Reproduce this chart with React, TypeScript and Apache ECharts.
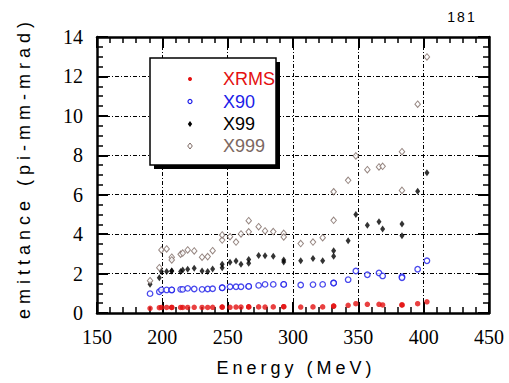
import React, { useEffect, useRef } from "react";
import * as echarts from "echarts";

// Beam energy (MeV) of each sample (some energies carry two samples)
const energy = [
  190.6, 197.7, 199.3, 203.3, 207.2, 207.2, 214.0, 215.6, 219.4, 224.4,
  230.4, 234.7, 238.5, 245.8, 245.8, 251.8, 256.4, 260.2, 266.1, 266.1,
  273.7, 278.6, 284.9, 292.9, 292.9, 305.9, 315.3, 322.7, 331.1, 331.1,
  342.2, 348.1, 356.9, 365.8, 368.6, 383.4, 383.4, 395.4, 402.5,
];
const xrms = [
  0.24, 0.27, 0.28, 0.28, 0.28, 0.28, 0.28, 0.28, 0.28, 0.29,
  0.28, 0.28, 0.29, 0.3, 0.3, 0.29, 0.3, 0.3, 0.31, 0.31,
  0.31, 0.3, 0.31, 0.32, 0.32, 0.3, 0.31, 0.31, 0.35, 0.35,
  0.39, 0.47, 0.44, 0.44, 0.41, 0.41, 0.41, 0.47, 0.57,
];
const x90 = [
  0.98, 1.08, 1.17, 1.17, 1.17, 1.17, 1.2, 1.2, 1.25, 1.22,
  1.2, 1.22, 1.23, 1.28, 1.28, 1.33, 1.33, 1.33, 1.35, 1.35,
  1.4, 1.45, 1.45, 1.45, 1.45, 1.42, 1.44, 1.45, 1.52, 1.52,
  1.69, 2.13, 1.94, 2.03, 1.88, 1.84, 1.79, 2.22, 2.65,
];
const x99 = [
  1.46, 1.79, 2.1, 2.1, 2.13, 2.13, 2.1, 2.18, 2.22, 2.27,
  2.13, 2.1, 2.23, 2.47, 2.3, 2.57, 2.64, 2.47, 2.72, 2.52,
  2.92, 2.91, 2.88, 2.69, 2.59, 2.65, 2.76, 2.65, 3.16, 2.88,
  3.67, 5.0, 4.45, 4.63, 4.26, 4.52, 3.92, 6.17, 7.12,
];
const x999 = [
  1.64, 2.3, 3.2, 3.25, 2.83, 2.69, 2.98, 3.04, 3.2, 3.15,
  2.83, 2.86, 3.16, 3.7, 3.96, 3.87, 3.6, 4.01, 4.68, 4.12,
  4.38, 4.16, 4.13, 4.04, 3.86, 3.52, 3.6, 3.82, 6.15, 4.7,
  6.73, 7.97, 7.27, 7.41, 7.44, 8.18, 6.22, 10.59, 12.99,
];

const seriesNames = ["XRMS", "X90", "X99", "X999"];
const xTicks = { min: 150, max: 450, interval: 50 };
const yTicks = { min: 0, max: 14, interval: 2 };

const RED = "#e41010";
const BLUE = "#1c1ce8";
const BLACK = "#000000";
const BROWN = "#7c6862";

const pair = (ys: number[]) => energy.map((e, i) => [e, ys[i]]);

export default function App() {
  const ref = useRef<HTMLDivElement>(null);
  useEffect(() => {
    if (!ref.current) return;
    const chart = echarts.init(ref.current, null, { renderer: "svg" });
    const serif = "'Liberation Serif', 'Times New Roman', serif";
    const sans = "'Liberation Sans', Arial, sans-serif";
    const splitStyle = { type: [4, 2, 1, 2], color: "#000", width: 1 };
    const baseX = {
      type: "value",
      min: xTicks.min,
      max: xTicks.max,
      interval: xTicks.interval,
      axisLine: { show: true, onZero: false, lineStyle: { color: "#000", width: 2.5 } },
      axisTick: { show: true, inside: true, length: 11, lineStyle: { color: "#000", width: 2 } },
      minorTick: { show: true, splitNumber: 5, length: 6, lineStyle: { color: "#000", width: 1.5 } },
    };
    const baseY = {
      type: "value",
      min: yTicks.min,
      max: yTicks.max,
      interval: yTicks.interval,
      axisLine: { show: true, onZero: false, lineStyle: { color: "#000", width: 2.5 } },
      axisTick: { show: true, inside: true, length: 11, lineStyle: { color: "#000", width: 2 } },
      minorTick: { show: true, splitNumber: 4, length: 6, lineStyle: { color: "#000", width: 1.5 } },
    };
    const option = {
      animation: false,
      backgroundColor: "#fff",
      grid: { left: 97, top: 37, width: 392, height: 276 },
      xAxis: [
        {
          ...baseX,
          position: "bottom",
          axisLabel: { fontFamily: serif, fontSize: 20, color: "#000", margin: 14 },
          splitLine: { show: true, lineStyle: splitStyle },
        },
        {
          ...baseX,
          position: "top",
          axisLabel: { show: false },
          splitLine: { show: false },
        },
      ],
      yAxis: [
        {
          ...baseY,
          position: "left",
          axisLabel: { fontFamily: serif, fontSize: 20, color: "#000", margin: 14 },
          splitLine: { show: true, lineStyle: splitStyle },
        },
        {
          ...baseY,
          position: "right",
          axisLabel: { show: false },
          splitLine: { show: false },
        },
      ],
      series: [
        {
          name: seriesNames[0],
          type: "scatter",
          data: pair(xrms),
          symbol: "circle",
          symbolSize: 5.5,
          itemStyle: { color: RED },
          z: 5,
        },
        {
          name: seriesNames[1],
          type: "scatter",
          data: pair(x90),
          symbol: "circle",
          symbolSize: 5.5,
          itemStyle: { color: "#fff", borderColor: BLUE, borderWidth: 1.3 },
          z: 5,
        },
        {
          name: seriesNames[2],
          type: "scatter",
          data: pair(x99),
          symbol: "diamond",
          symbolSize: [5, 7],
          itemStyle: { color: BLACK },
          z: 5,
        },
        {
          name: seriesNames[3],
          type: "scatter",
          data: pair(x999),
          symbol: "diamond",
          symbolSize: [5.5, 6.5],
          itemStyle: { color: "#fff", borderColor: BROWN, borderWidth: 1 },
          z: 5,
        },
      ],
      graphic: [
        // legend box with drop shadow
        { type: "rect", z: 20, shape: { x: 154, y: 62, width: 126, height: 107 }, style: { fill: "#000" } },
        { type: "rect", z: 21, shape: { x: 150, y: 58, width: 126, height: 107 }, style: { fill: "#fff", stroke: "#000", lineWidth: 1.5 } },
        { type: "circle", z: 22, shape: { cx: 190, cy: 79, r: 2 }, style: { fill: RED } },
        { type: "circle", z: 22, shape: { cx: 190, cy: 101.5, r: 2 }, style: { fill: "#fff", stroke: BLUE, lineWidth: 1.2 } },
        { type: "polygon", z: 22, shape: { points: [[190, 121], [192.2, 124], [190, 127], [187.8, 124]] }, style: { fill: BLACK } },
        { type: "polygon", z: 22, shape: { points: [[190, 143], [192.3, 146], [190, 149], [187.7, 146]] }, style: { fill: "#fff", stroke: BROWN, lineWidth: 1 } },
        { type: "text", z: 22, x: 223, y: 79, style: { text: seriesNames[0], fill: RED, font: `18px ${sans}`, verticalAlign: "middle" } },
        { type: "text", z: 22, x: 223, y: 101.5, style: { text: seriesNames[1], fill: BLUE, font: `18px ${sans}`, verticalAlign: "middle" } },
        { type: "text", z: 22, x: 223, y: 124, style: { text: seriesNames[2], fill: BLACK, font: `18px ${sans}`, verticalAlign: "middle" } },
        { type: "text", z: 22, x: 223, y: 146, style: { text: seriesNames[3], fill: BROWN, font: `18px ${sans}`, verticalAlign: "middle" } },
        // axis titles
        { type: "text", x: 296, y: 368, style: { text: "Energy (MeV)", fill: "#000", font: `18px ${sans}`, align: "center", verticalAlign: "middle" } },
        { type: "text", x: 24, y: 168, rotation: Math.PI / 2, style: { text: "emittance (pi-mm-mrad)", fill: "#000", font: `18px ${sans}`, align: "center", verticalAlign: "middle" } },
        { type: "text", x: 462, y: 17, style: { text: "181", fill: "#000", font: `14px ${sans}`, align: "center", verticalAlign: "middle" } },
      ],
    };
    chart.setOption(option as any);
    const spacing = () => {
      if (!ref.current) return;
      ref.current.querySelectorAll("text").forEach((t) => {
        const s = t.textContent || "";
        if (s === "Energy (MeV)") t.setAttribute("letter-spacing", "4");
        else if (s === "emittance (pi-mm-mrad)") t.setAttribute("letter-spacing", "5");
        else if (s === "181") t.setAttribute("letter-spacing", "2");
      });
    };
    spacing();
    chart.on("finished", spacing);
    return () => chart.dispose();
  }, []);
  return (
    <div
      ref={ref}
      style={{ position: "fixed", left: 0, top: 0, width: 509, height: 383, background: "#fff" }}
    />
  );
}
